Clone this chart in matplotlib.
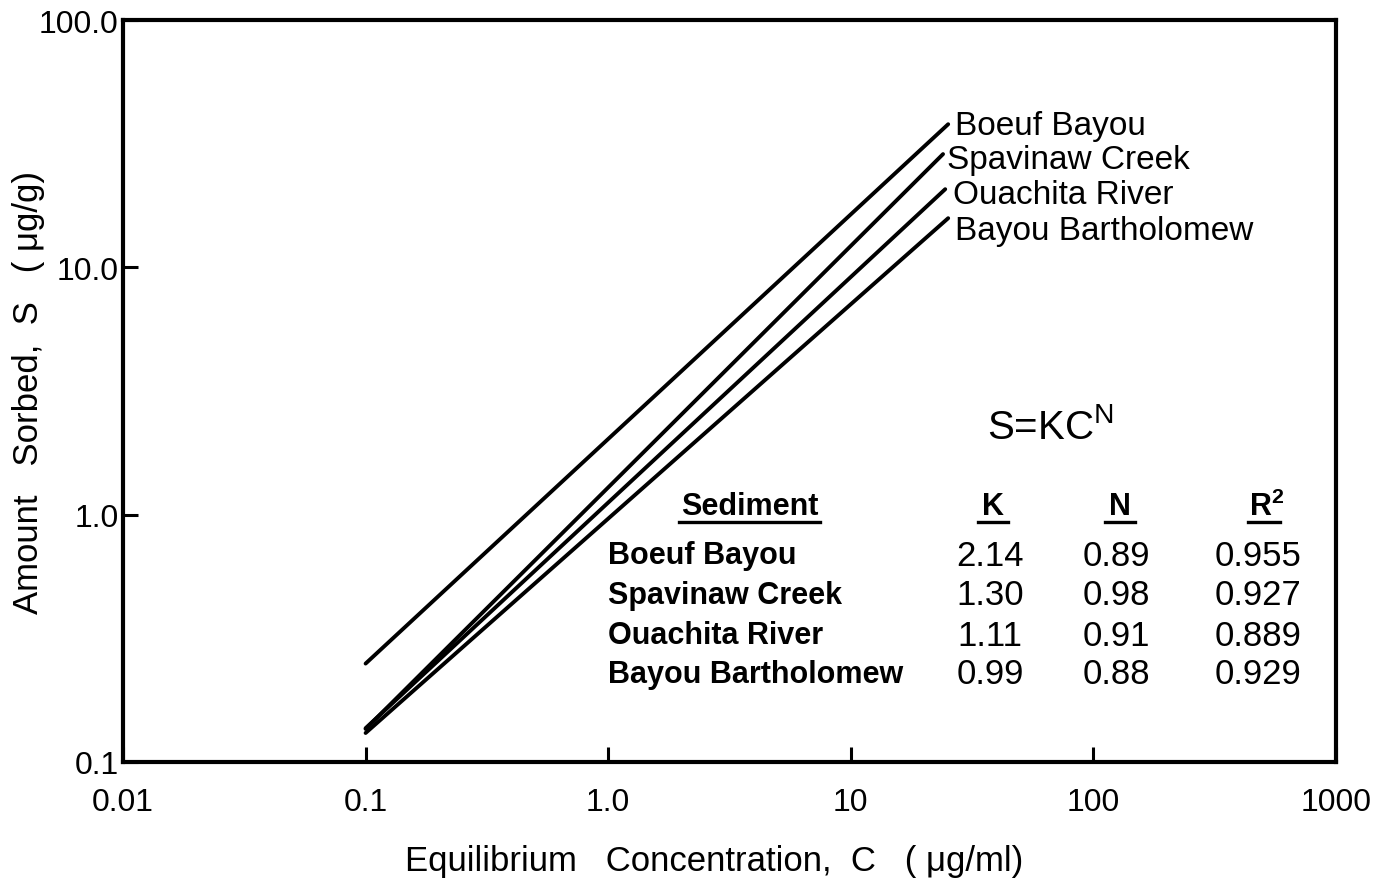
import matplotlib
matplotlib.use("Agg")
import matplotlib.pyplot as plt
from matplotlib.ticker import FixedLocator, NullLocator

# sediments and fitted Freundlich parameters (table in the figure)
sediments = ["Boeuf Bayou", "Spavinaw Creek", "Ouachita River", "Bayou Bartholomew"]
k_vals = ["2.14", "1.30", "1.11", "0.99"]
n_vals = ["0.89", "0.98", "0.91", "0.88"]
r2_vals = ["0.955", "0.927", "0.889", "0.929"]

# line end points (C in ug/ml, S in ug/g)
c_start = [0.1, 0.1, 0.1, 0.1]
c_end = [25.2, 24.0, 24.5, 25.2]
s_start = [0.25, 0.136, 0.137, 0.131]
s_end = [37.9, 28.7, 20.7, 15.8]

x_ticks = [0.01, 0.1, 1.0, 10, 100, 1000]
x_ticklabels = ["0.01", "0.1", "1.0", "10", "100", "1000"]
y_ticks = [0.1, 1.0, 10.0, 100.0]
y_ticklabels = ["0.1", "1.0", "10.0", "100.0"]

W, H = 1382, 887
plt.rcParams["font.family"] = ["Liberation Sans", "DejaVu Sans"]
plt.rcParams["mathtext.fontset"] = "custom"
plt.rcParams["mathtext.rm"] = "Liberation Sans"
plt.rcParams["mathtext.bf"] = "Liberation Sans:bold"
plt.rcParams["mathtext.default"] = "regular"

fig = plt.figure(figsize=(W / 100, H / 100), dpi=100)
ax = fig.add_axes([123 / W, 1 - 763 / H, (1336 - 123) / W, (763 - 21) / H])


def px(x, y):
    return x / W, 1 - y / H


for i in range(len(sediments)):
    ax.plot([c_start[i], c_end[i]], [s_start[i], s_end[i]], color="black",
            linewidth=2.8, solid_capstyle="round")

ax.set_xscale("log")
ax.set_yscale("log")
ax.set_xlim(0.01, 1000)
ax.set_ylim(0.1, 100)
ax.xaxis.set_major_locator(FixedLocator(x_ticks))
ax.yaxis.set_major_locator(FixedLocator(y_ticks))
ax.xaxis.set_minor_locator(NullLocator())
ax.yaxis.set_minor_locator(NullLocator())
ax.set_xticklabels(x_ticklabels)
ax.set_yticklabels(y_ticklabels)
ax.tick_params(axis="x", direction="in", length=11, width=2.2, pad=18, labelsize=23)
ax.tick_params(axis="y", direction="in", length=11, width=2.2, pad=3, labelsize=23)
for sp in ax.spines.values():
    sp.set_linewidth(3)

fig.text(*px(714, 862), "Equilibrium   Concentration,  C   ( \u03bcg/ml)",
         ha="center", va="center", fontsize=25)
fig.text(*px(29, 392), "Amount   Sorbed,  S   ( \u03bcg/g)", rotation=90,
         ha="center", va="center", fontsize=25)

# curve labels
label_pos = [(955, 126), (947, 161), (953, 196), (955, 232)]
for name, (x, y) in zip(sediments, label_pos):
    fig.text(*px(x, y), name, ha="left", va="center", fontsize=24)

fig.text(*px(1050, 428), "S=KC$^{N}$", ha="center", va="center", fontsize=29)

# table
hdr_y = 507
fig.text(*px(750, hdr_y), "Sediment", ha="center", va="center", fontsize=22, fontweight="bold")
fig.text(*px(993, hdr_y), "K", ha="center", va="center", fontsize=22, fontweight="bold")
fig.text(*px(1120, hdr_y), "N", ha="center", va="center", fontsize=22, fontweight="bold")
fig.text(*px(1267, hdr_y), "$\\mathbf{R}^{\\mathbf{2}}$", ha="center", va="center", fontsize=22)
for x0, x1 in [(679, 820), (978, 1008), (1105, 1135), (1248, 1280)]:
    fig.add_artist(plt.Line2D([x0 / W, x1 / W], [1 - 523 / H, 1 - 523 / H],
                              color="black", linewidth=2.4))

row_y = [556, 596, 636, 675]
for i, y in enumerate(row_y):
    fig.text(*px(608, y), sediments[i], ha="left", va="center", fontsize=22, fontweight="bold")
    fig.text(*px(990, y), k_vals[i], ha="center", va="center", fontsize=25)
    fig.text(*px(1116, y), n_vals[i], ha="center", va="center", fontsize=25)
    fig.text(*px(1258, y), r2_vals[i], ha="center", va="center", fontsize=25)

fig.savefig("out.png", dpi=100)
